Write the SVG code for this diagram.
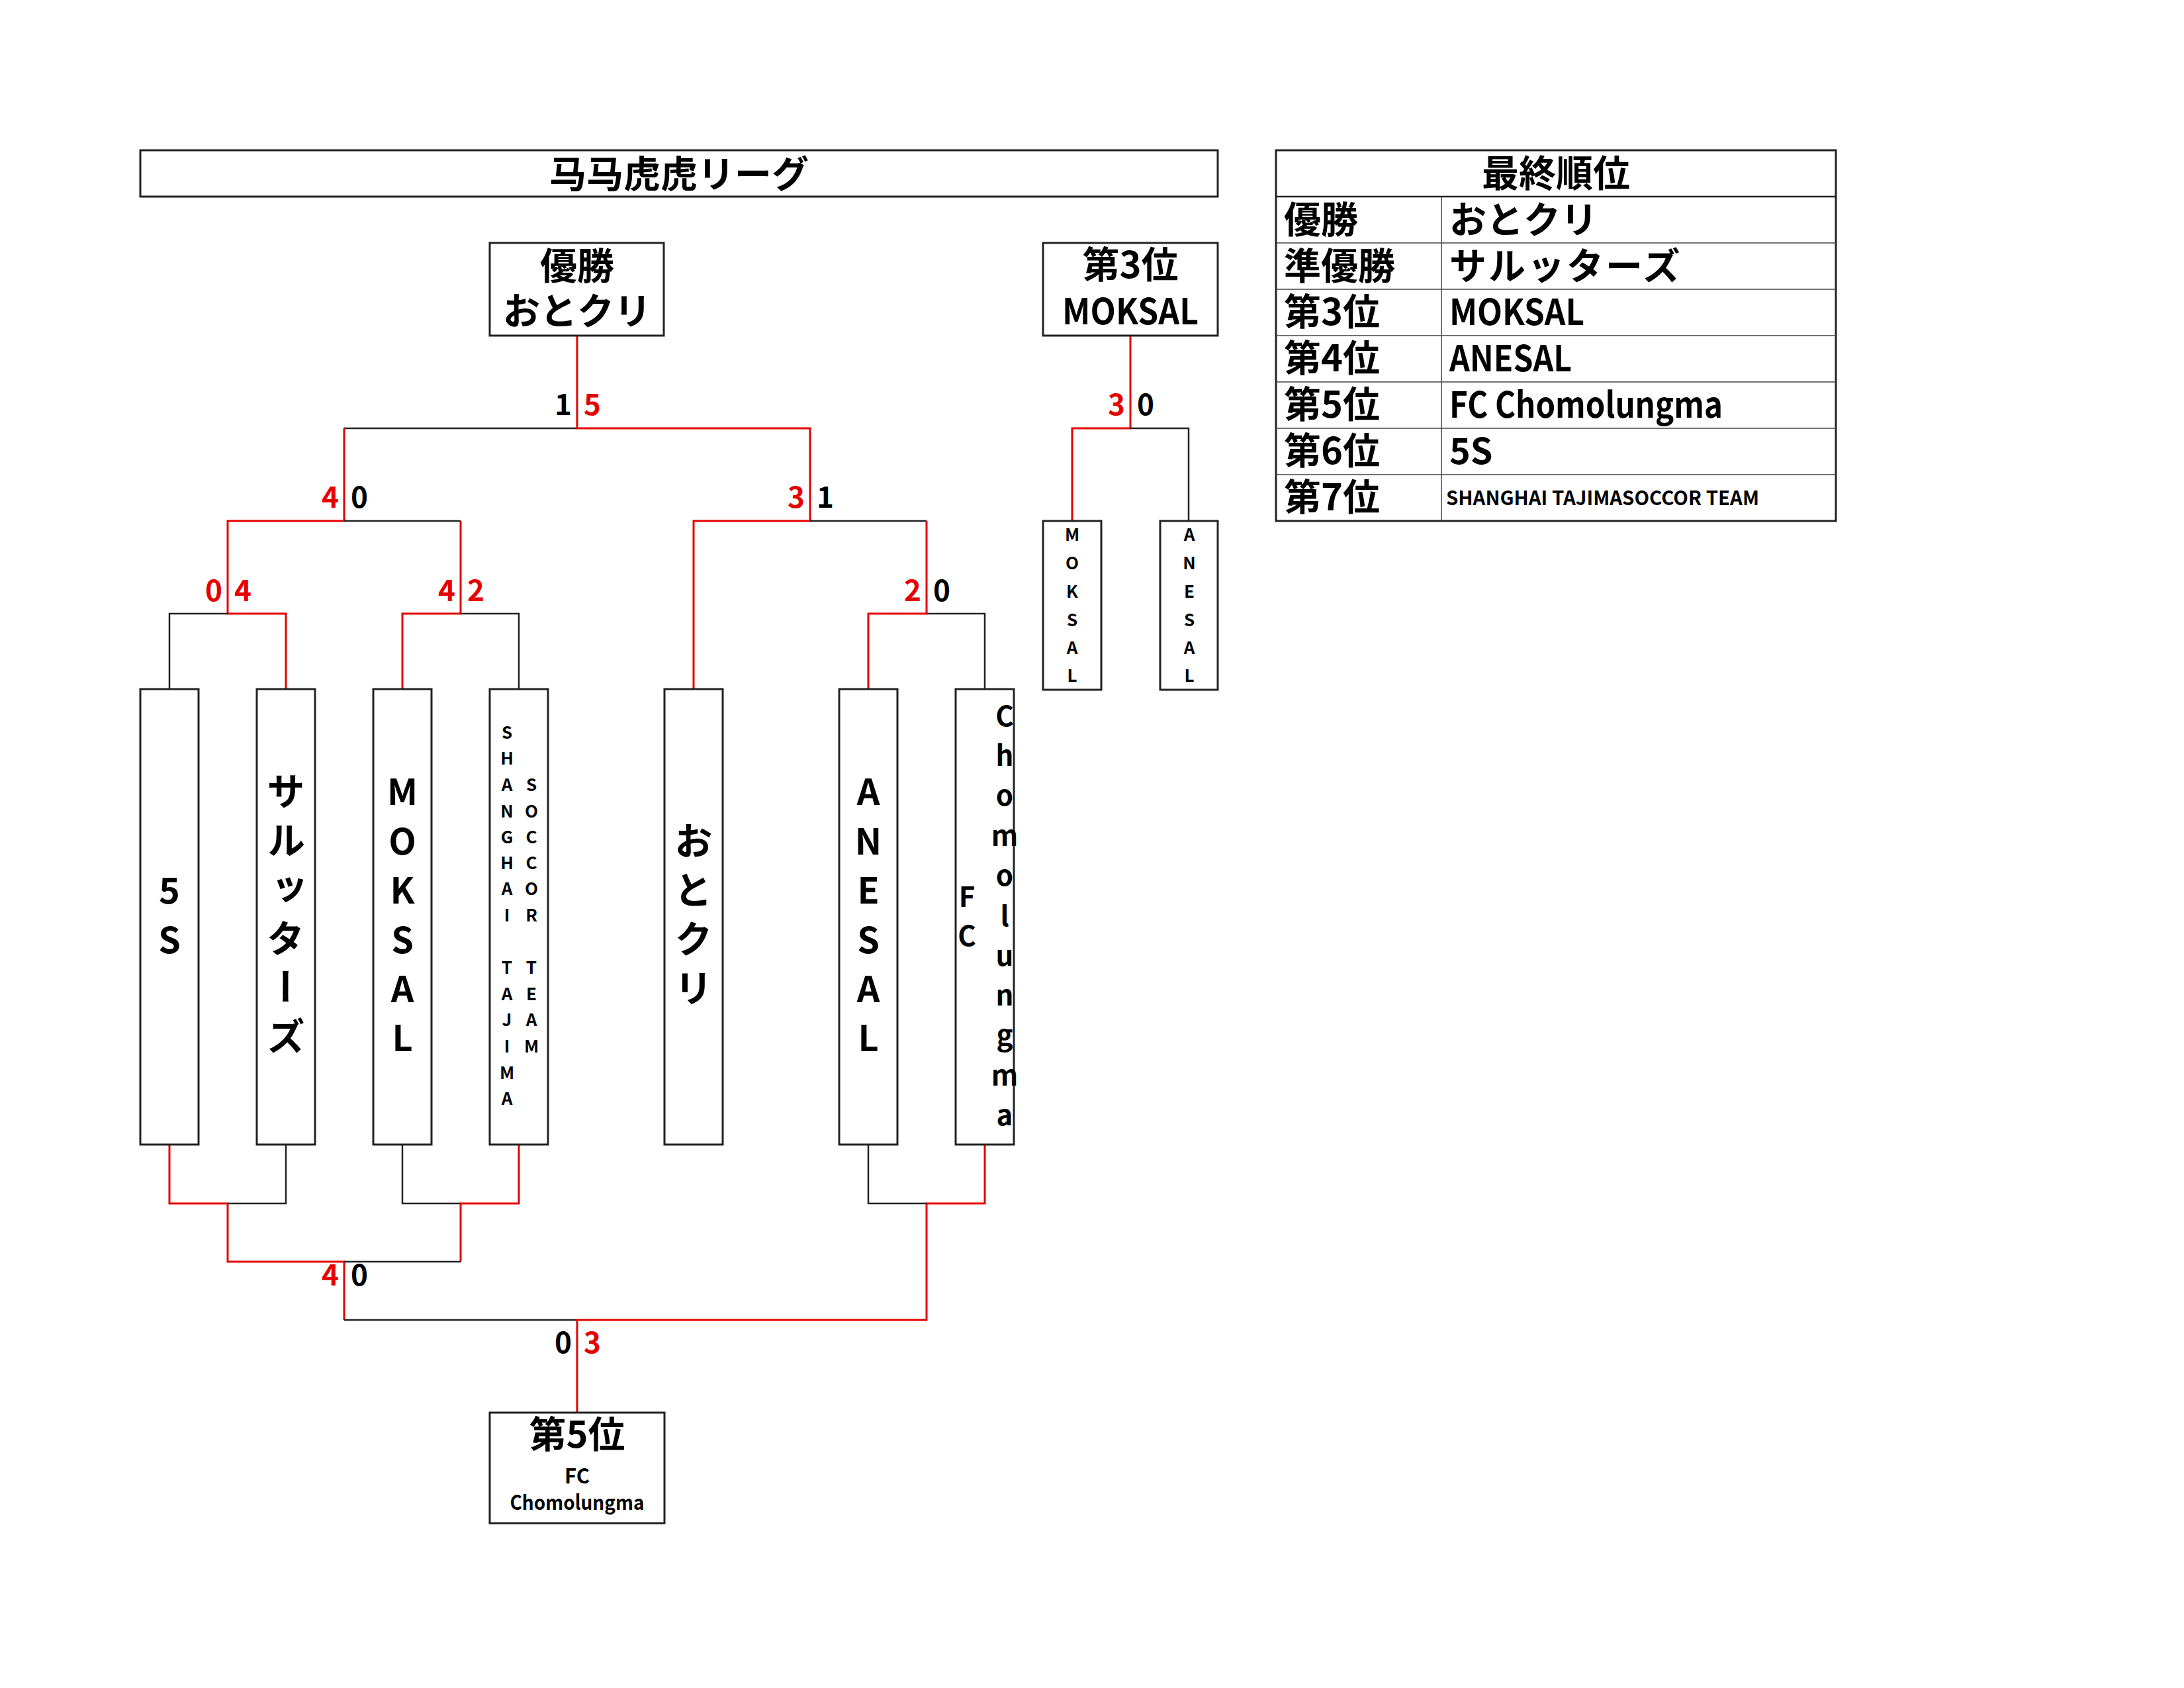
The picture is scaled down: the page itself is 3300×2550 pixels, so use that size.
<svg xmlns="http://www.w3.org/2000/svg" width="3300" height="2550" viewBox="0 0 3300 2550">
<style>
.bx{fill:#fff;stroke:#222;stroke-width:3}
.r{fill:none;stroke:#e60000;stroke-width:3}
.k{fill:none;stroke:#222;stroke-width:2.5}
.tl{fill:none;stroke:#444;stroke-width:1.5}
.t{font-family:"Noto Sans CJK JP","Noto Sans",sans-serif;font-weight:700;fill:#000}
.m{text-anchor:middle}
.e{text-anchor:end}
.red{fill:#e60000}
.s44{font-size:44px}
.v{writing-mode:vertical-rl;font-size:58px;letter-spacing:16px;text-anchor:middle}
</style>
<rect width="3300" height="2550" fill="#fff"/>
<g id="title">
<rect class="bx" x="212" y="227" width="1628" height="70"/>
<text class="t m" x="1026" y="283" font-size="56">马马虎虎リーグ</text>
</g>
<g id="connectors">
<path class="k" d="M872 647H520"/>
<path class="r" d="M520 647V787H344V927H432V1041"/>
<path class="k" d="M520 787H696"/>
<path class="r" d="M696 787V927H608V1041"/>
<path class="k" d="M696 927H784V1041"/>
<path class="k" d="M344 927H256V1041"/>
<path class="r" d="M872 507V647H1224V787H1048V1041"/>
<path class="k" d="M1224 787H1400"/>
<path class="r" d="M1400 787V927H1312V1041"/>
<path class="k" d="M1400 927H1488V1041"/>
<path class="r" d="M1708 507V647H1620V787"/>
<path class="k" d="M1708 647H1796V787"/>
<path class="r" d="M256 1729V1818H344V1906H520V1994"/>
<path class="k" d="M344 1818H432V1729"/>
<path class="k" d="M608 1729V1818H696"/>
<path class="r" d="M784 1729V1818H696V1906"/>
<path class="k" d="M520 1906H696"/>
<path class="k" d="M520 1994H872"/>
<path class="r" d="M872 2134V1994H1400V1818H1488V1729"/>
<path class="k" d="M1312 1729V1818H1400"/>
</g>
<g id="scores" class="t s44">
<text class="e" x="864" y="627">1</text><text class="red" x="882" y="627">5</text>
<text class="e red" x="512" y="767">4</text><text x="530" y="767">0</text>
<text class="e red" x="1216" y="767">3</text><text x="1234" y="767">1</text>
<text class="e red" x="336" y="908">0</text><text class="red" x="354" y="908">4</text>
<text class="e red" x="688" y="908">4</text><text class="red" x="706" y="908">2</text>
<text class="e red" x="1392" y="908">2</text><text x="1410" y="908">0</text>
<text class="e red" x="1700" y="627">3</text><text x="1718" y="627">0</text>
<text class="e red" x="512" y="1942">4</text><text x="530" y="1942">0</text>
<text class="e" x="864" y="2044">0</text><text class="red" x="882" y="2044">3</text>
</g>
<g id="champion">
<rect class="bx" x="740" y="367" width="263" height="140"/>
<text class="t m" x="872" y="422" font-size="56">優勝</text>
<text class="t m" x="872" y="490" font-size="56">おとクリ</text>
</g>
<g id="third">
<rect class="bx" x="1576" y="367" width="264" height="140"/>
<text class="t m" x="1708" y="420" font-size="56">第3位</text>
<text class="t m" x="1708" y="490" font-size="54" textLength="206" lengthAdjust="spacingAndGlyphs">MOKSAL</text>
</g>
<g id="fifth">
<rect class="bx" x="740" y="2134" width="264" height="167"/>
<text class="t m" x="872" y="2187" font-size="56">第5位</text>
<text class="t m" x="872" y="2241" font-size="31">FC</text>
<text class="t m" x="872" y="2281" font-size="31" textLength="203" lengthAdjust="spacingAndGlyphs">Chomolungma</text>
</g>
<g id="team-5s">
<rect class="bx" x="212" y="1041" width="88" height="688"/>
<text class="t m" font-size="54"><tspan x="256" y="1365">5</tspan><tspan x="256" y="1440">S</tspan></text>
</g>
<g id="team-sarutters">
<rect class="bx" x="388" y="1041" width="88" height="688"/>
<text class="t v" x="432" y="1388">サルッターズ</text>
</g>
<g id="team-moksal">
<rect class="bx" x="564" y="1041" width="88" height="688"/>
<text class="t m" font-size="54"><tspan x="608" y="1216">M</tspan><tspan x="608" y="1291">O</tspan><tspan x="608" y="1365">K</tspan><tspan x="608" y="1440">S</tspan><tspan x="608" y="1514">A</tspan><tspan x="608" y="1588">L</tspan></text>
</g>
<g id="team-shanghai">
<rect class="bx" x="740" y="1041" width="88" height="688"/>
<text class="t m" font-size="26"><tspan x="766" y="1116">S</tspan><tspan x="766" y="1155">H</tspan><tspan x="766" y="1195">A</tspan><tspan x="766" y="1235">N</tspan><tspan x="766" y="1274">G</tspan><tspan x="766" y="1313">H</tspan><tspan x="766" y="1352">A</tspan><tspan x="766" y="1392">I</tspan><tspan x="766" y="1471">T</tspan><tspan x="766" y="1511">A</tspan><tspan x="766" y="1550">J</tspan><tspan x="766" y="1590">I</tspan><tspan x="766" y="1630">M</tspan><tspan x="766" y="1669">A</tspan></text>
<text class="t m" font-size="26"><tspan x="803" y="1195">S</tspan><tspan x="803" y="1235">O</tspan><tspan x="803" y="1274">C</tspan><tspan x="803" y="1313">C</tspan><tspan x="803" y="1352">O</tspan><tspan x="803" y="1392">R</tspan><tspan x="803" y="1471">T</tspan><tspan x="803" y="1511">E</tspan><tspan x="803" y="1550">A</tspan><tspan x="803" y="1590">M</tspan></text>
</g>
<g id="team-otokuri">
<rect class="bx" x="1004" y="1041" width="88" height="688"/>
<text class="t v" x="1048" y="1389">おとクリ</text>
</g>
<g id="team-anesal">
<rect class="bx" x="1268" y="1041" width="88" height="688"/>
<text class="t m" font-size="54"><tspan x="1312" y="1216">A</tspan><tspan x="1312" y="1291">N</tspan><tspan x="1312" y="1365">E</tspan><tspan x="1312" y="1440">S</tspan><tspan x="1312" y="1514">A</tspan><tspan x="1312" y="1588">L</tspan></text>
</g>
<g id="team-fc">
<rect class="bx" x="1444" y="1041" width="88" height="688"/>
<text class="t m" font-size="42"><tspan x="1461" y="1370">F</tspan><tspan x="1461" y="1429">C</tspan></text>
<text class="t m" font-size="42"><tspan x="1518" y="1097">C</tspan><tspan x="1518" y="1157">h</tspan><tspan x="1518" y="1217">o</tspan><tspan x="1518" y="1278">m</tspan><tspan x="1518" y="1338">o</tspan><tspan x="1518" y="1399">l</tspan><tspan x="1518" y="1459">u</tspan><tspan x="1518" y="1519">n</tspan><tspan x="1518" y="1579">g</tspan><tspan x="1518" y="1640">m</tspan><tspan x="1518" y="1700">a</tspan></text>
</g>
<g id="third-moksal">
<rect class="bx" x="1576" y="787" width="88" height="255"/>
<text class="t m" font-size="26"><tspan x="1620" y="817">M</tspan><tspan x="1620" y="860">O</tspan><tspan x="1620" y="903">K</tspan><tspan x="1620" y="946">S</tspan><tspan x="1620" y="988">A</tspan><tspan x="1620" y="1030">L</tspan></text>
</g>
<g id="third-anesal">
<rect class="bx" x="1753" y="787" width="87" height="255"/>
<text class="t m" font-size="26"><tspan x="1797" y="817">A</tspan><tspan x="1797" y="860">N</tspan><tspan x="1797" y="903">E</tspan><tspan x="1797" y="946">S</tspan><tspan x="1797" y="988">A</tspan><tspan x="1797" y="1030">L</tspan></text>
</g>
<g id="standings">
<rect class="bx" x="1928" y="227" width="846" height="560"/>
<path class="k" d="M1928 297H2774"/>
<path class="tl" d="M1928 367H2774M1928 437H2774M1928 507H2774M1928 577H2774M1928 647H2774M1928 717H2774M2178 297V787"/>
<text class="t m" x="2351" y="282" font-size="56">最終順位</text>
<g class="t" font-size="56">
<text x="1940" y="352">優勝</text>
<text x="1940" y="422">準優勝</text>
<text x="1940" y="491">第3位</text>
<text x="1940" y="561">第4位</text>
<text x="1940" y="631">第5位</text>
<text x="1940" y="701">第6位</text>
<text x="1940" y="771">第7位</text>
<text x="2190" y="352">おとクリ</text>
<text x="2190" y="422" letter-spacing="3">サルッターズ</text>
</g>
<g class="t" font-size="54">
<text x="2190" y="491" textLength="204" lengthAdjust="spacingAndGlyphs">MOKSAL</text>
<text x="2190" y="561" textLength="185" lengthAdjust="spacingAndGlyphs">ANESAL</text>
<text x="2190" y="631" textLength="413" lengthAdjust="spacingAndGlyphs">FC Chomolungma</text>
<text x="2190" y="701">5S</text>
</g>
<text class="t" x="2185" y="763" font-size="30" textLength="473" lengthAdjust="spacingAndGlyphs">SHANGHAI TAJIMASOCCOR TEAM</text>
</g>
</svg>
